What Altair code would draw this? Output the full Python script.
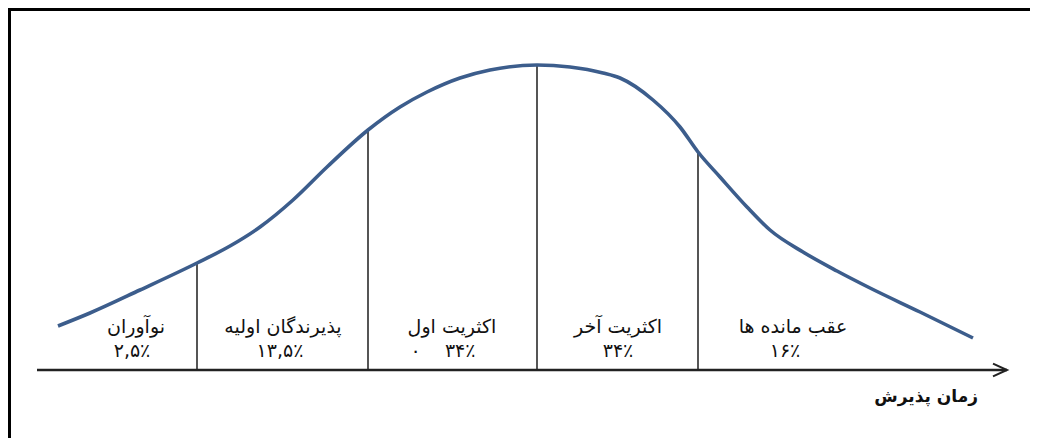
import altair as alt
import pandas as pd

# ---- data ----
curve_t = [58, 90, 140, 197, 230, 260, 293, 327, 368, 400, 427, 460, 490, 537,
           570, 603, 620, 653, 680, 698, 720, 747, 770, 803, 837, 870, 920, 973]
curve_h = [44, 57, 80, 107, 124, 143, 170, 203, 240, 263, 278, 292, 300, 305,
           303, 297, 292, 270, 243, 218, 193, 163, 140, 118, 99, 82, 58, 32]

boundary_t = [197, 368, 537, 698]
boundary_h = [107, 240, 305, 218]

group_names = ["نوآوران", "پذیرندگان اولیه", "اکثریت اول", "اکثریت آخر", "عقب مانده ها"]
group_shares = ["۲,۵٪", "۱۳,۵٪", "۰\u00a0\u00a0\u00a0\u00a0۳۴٪", "۳۴٪", "۱۶٪"]
name_t = [136, 283, 452, 618, 793]
share_t = [132, 280, 443, 618, 785]

axis_start, axis_end = 37, 1007
axis_title = "زمان پذیرش"
axis_title_t = 978

FONT = "DejaVu Sans"
W, H = 1022, 430
xs = alt.Scale(domain=[8, 8 + W], nice=False, zero=False)
ys = alt.Scale(domain=[-68, -68 + H], nice=False, zero=False)

curve_df = pd.DataFrame({"t": curve_t, "h": curve_h})
bound_df = pd.DataFrame({"t": boundary_t, "h": boundary_h, "base": [0] * len(boundary_t)})
names_df = pd.DataFrame({"t": name_t, "label": group_names})
shares_df = pd.DataFrame({"t": share_t, "label": group_shares})
axis_df = pd.DataFrame({"t": [axis_start], "t2": [axis_end], "h": [0]})
arrow_df = pd.DataFrame({"t": [axis_end], "h": [0]})
title_df = pd.DataFrame({"t": [axis_title_t], "label": [axis_title]})

X = lambda f="t": alt.X(f"{f}:Q", scale=xs, axis=None)
Y = lambda f="h": alt.Y(f"{f}:Q", scale=ys, axis=None)

curve = alt.Chart(curve_df).mark_line(
    color="#3C5D8C", strokeWidth=3.6, interpolate="monotone"
).encode(x=X(), y=Y())

bounds = alt.Chart(bound_df).mark_rule(color="#2b2b2b", strokeWidth=1.6).encode(
    x=X(), y=Y("base"), y2="h:Q"
)

axis_line = alt.Chart(axis_df).mark_rule(color="#222222", strokeWidth=2.6).encode(
    x=X(), x2="t2:Q", y=Y()
)

arrow = alt.Chart(arrow_df).mark_point(
    shape="M-1,-0.45L0,0L-1,0.45", filled=False, size=784,
    color="#222222", strokeWidth=2, opacity=1
).encode(x=X(), y=Y())

names = alt.Chart(names_df).mark_text(
    font=FONT, fontSize=19, color="#111111", align="center", baseline="middle"
).encode(x=X(), y=alt.value(327 - 8), text="label:N")

shares = alt.Chart(shares_df).mark_text(
    font=FONT, fontSize=19, color="#111111", align="center", baseline="middle"
).encode(x=X(), y=alt.value(351 - 8), text="label:N")

title = alt.Chart(title_df).mark_text(
    font=FONT, fontSize=17, fontWeight="bold", color="#111111",
    align="right", baseline="middle"
).encode(x=X(), y=alt.value(397 - 8), text="label:N")

border_top = alt.Chart(curve_df).mark_rule(color="#000000", strokeWidth=2.6).encode(
    x=alt.value(0), x2=alt.value(W + 20), y=alt.value(1)
)
border_left = alt.Chart(curve_df).mark_rule(color="#000000", strokeWidth=2.6).encode(
    x=alt.value(1), y=alt.value(0), y2=alt.value(H + 20)
)

chart = alt.layer(
    bounds, curve, axis_line, arrow, names, shares, title, border_top, border_left
).properties(
    width=W, height=H, padding=0, autosize=alt.AutoSizeParams(type="none"),
    background="white"
).configure_view(stroke=None)

chart.save("out.html", embed_options={"renderer": "svg", "actions": False})
